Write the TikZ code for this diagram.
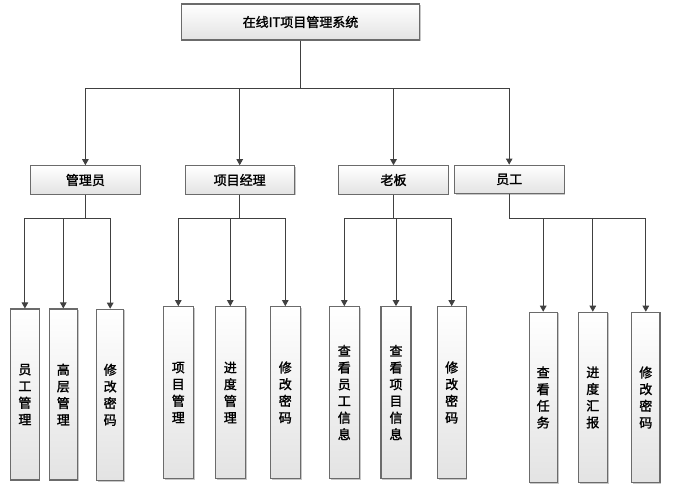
\documentclass[tikz,border=0pt]{standalone}
\usepackage{fontspec}
\setmainfont{Noto Sans CJK SC}[AutoFakeBold=1.6]
\usetikzlibrary{arrows.meta,shadows}
\begin{document}
\begin{tikzpicture}[x=1pt,y=-1pt,
  box/.style={draw=black!58,line width=1.1pt,top color=white,bottom color=black!11,
    general shadow={fill=black!22,shadow xshift=1.2pt,shadow yshift=-1.2pt},
    inner sep=0pt,font=\fontsize{13}{16.7}\selectfont\bfseries},
  hbox/.style={box,minimum height=28.5pt},
  vbox/.style={box,minimum width=28.5pt,minimum height=171pt,align=center},
  conn/.style={draw=black!75,line width=0.9pt},
  arr/.style={conn,-{Triangle[length=6pt,width=6.5pt]}}]
\useasboundingbox (0,0) rectangle (680,494);
\fill[white] (0,0) rectangle (680,494);
% top
\node[box,minimum width=237.6pt,minimum height=36pt] (top) at (300.5,22) {在线IT项目管理系统};
% level 2
\node[hbox,minimum width=109.3pt] (adm) at (85.4,180) {管理员};
\node[hbox,minimum width=109.3pt] (pm) at (239.7,180) {项目经理};
\node[hbox,minimum width=109.3pt] (boss) at (393.5,180) {老板};
\node[hbox,minimum width=109.7pt] (emp) at (509.2,179.4) {员工};
% level 3
\node[vbox,minimum width=28.3pt] (a1) at (24.9,394.5) {员\\工\\管\\理};
\node[vbox,minimum width=28pt] (a2) at (63.3,394.5) {高\\层\\管\\理};
\node[vbox,minimum width=27pt] (a3) at (110.2,394.8) {修\\改\\密\\码};
\node[vbox,minimum width=30pt,minimum height=171.6pt] (p1) at (178.3,392.5) {项\\目\\管\\理};
\node[vbox,minimum width=30pt,minimum height=171.6pt] (p2) at (230.3,392.5) {进\\度\\管\\理};
\node[vbox,minimum width=30pt,minimum height=171.6pt] (p3) at (285.3,392.5) {修\\改\\密\\码};
\node[vbox,minimum width=30pt,minimum height=171.6pt] (b1) at (344.3,392.5) {查\\看\\员\\工\\信\\息};
\node[vbox,minimum width=30pt,minimum height=171.6pt] (b2) at (396,392.5) {查\\看\\项\\目\\信\\息};
\node[vbox,minimum width=28.7pt,minimum height=171.6pt] (b3) at (451.7,392.5) {修\\改\\密\\码};
\node[vbox,minimum width=28.3pt,minimum height=170.4pt] (e1) at (543.2,397.5) {查\\看\\任\\务};
\node[vbox,minimum width=29pt,minimum height=170.4pt] (e2) at (592.8,397.5) {进\\度\\汇\\报};
\node[vbox,minimum width=28.3pt,minimum height=170.4pt] (e3) at (645.8,397.5) {修\\改\\密\\码};
% buses
\coordinate (bus1) at (0,88.3);
\coordinate (bus2) at (0,218.2);
% connectors level 1 -> 2
\foreach \c in {adm,pm,boss,emp}
  \draw[arr] (top.south) -- (top.south |- bus1) -| (\c.north);
% level 2 -> 3
\foreach \p/\c in {adm/a1,adm/a2,adm/a3,pm/p1,pm/p2,pm/p3,boss/b1,boss/b2,boss/b3,emp/e1,emp/e2,emp/e3}
  \draw[arr] (\p.south) -- (\p.south |- bus2) -| (\c.north);
\end{tikzpicture}
\end{document}
